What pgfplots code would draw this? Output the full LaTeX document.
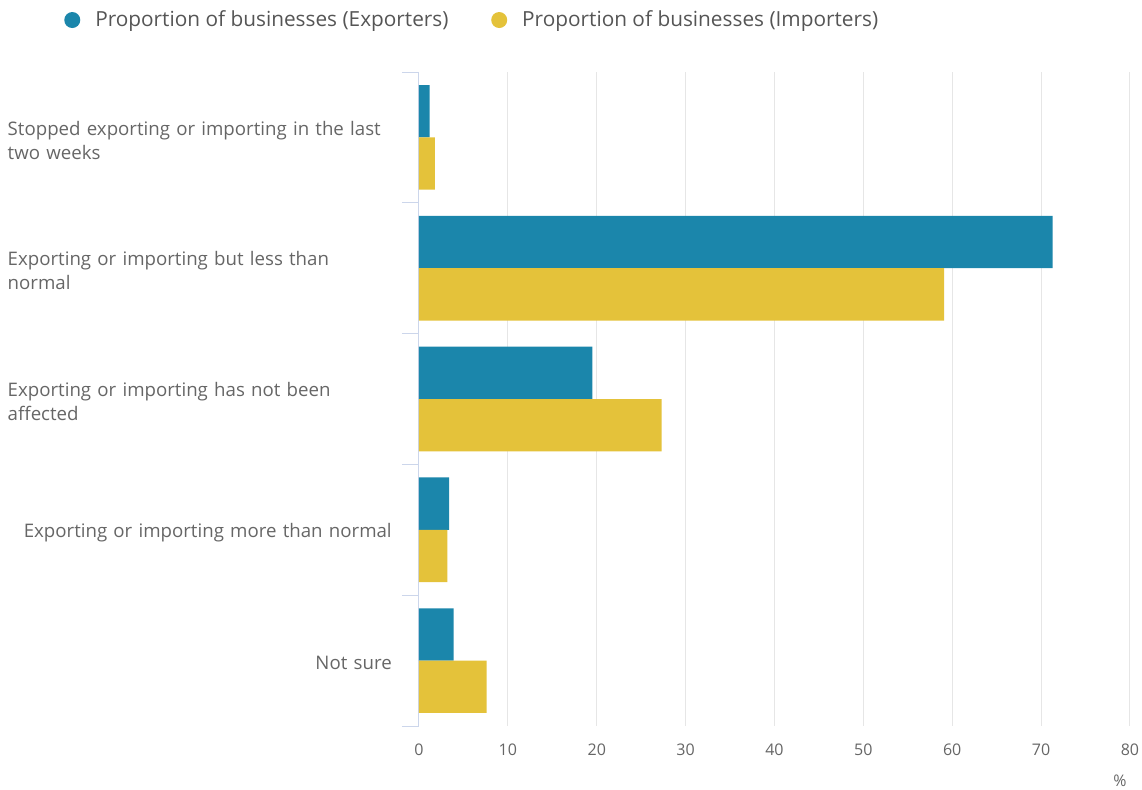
\documentclass[border=0pt]{standalone}
\usepackage{fontspec}
\setmainfont{Open Sans}
\usepackage{pgfplots}
\pgfplotsset{compat=1.18}
\definecolor{expc}{HTML}{1B86AB}
\definecolor{impc}{HTML}{E4C23A}
\definecolor{axisblue}{HTML}{CCD6EB}
\definecolor{gridgrey}{HTML}{E6E6E6}
\definecolor{labgrey}{HTML}{666666}
\definecolor{leggrey}{HTML}{555555}
\begin{document}
\begin{tikzpicture}
\useasboundingbox (0,0) rectangle (856.5pt,-591.75pt);
\begin{axis}[
 at={(314.25pt,-544.5pt)}, anchor=south west,
 scale only axis, width=533.25pt, height=490.5pt,
 xbar, bar width=0.4,
 xmin=0, xmax=80, ymin=-0.5, ymax=4.5, y dir=reverse,
 xtick={0,10,...,80}, ytick={0,...,4},
 /pgf/number format/assume math mode=true,
 yticklabels={{Stopped exporting or importing in the last\\two weeks},
   {Exporting or importing but less than\\normal},
   {Exporting or importing has not been\\affected},
   {\mbox{}\hfill Exporting or importing more than normal},
   {\mbox{}\hfill Not sure}},
 xmajorgrids, grid style={gridgrey, line width=0.75pt},
 major tick length=0pt,
 extra y ticks={-0.5,0.5,1.5,2.5,3.5,4.5}, extra y tick labels={},
 extra y tick style={major tick length=12.75pt, tick align=outside, tick style={axisblue, line width=0.75pt}, grid=none},
 axis x line*=bottom, axis y line*=left,
 x axis line style={draw=none}, y axis line style={axisblue, line width=0.75pt, -},
 yticklabel style={font=\fontsize{14}{18}\selectfont, text=labgrey, text width=288pt, align=left, anchor=east, inner sep=0pt, xshift=-20.25pt, yshift=-2pt},
 xticklabel style={font=\fontsize{12}{14}\selectfont, text=labgrey, inner sep=0pt, anchor=north, yshift=-13pt},
 xlabel={\%},
 xlabel style={at={(axis description cs:0.986,0)}, anchor=north, inner sep=0pt, yshift=-36.5pt, font=\fontsize{12}{14}\selectfont, text=labgrey},
 legend columns=2,
 legend style={at={(-0.4993,1.0795)}, anchor=west, draw=none, fill=none, inner sep=0pt,
   font=\fontsize{15.6}{17}\selectfont, text=leggrey, nodes={inner sep=0pt},
   /tikz/every odd column/.append style={column sep=11.25pt},
   /tikz/every even column/.append style={column sep=32pt}},
]
\addplot[fill=expc, draw=none, bar shift=-0.2, legend image code/.code={\fill[expc] (6pt,0pt) circle (6pt);}]
  coordinates {(1.2,0) (71.3,1) (19.5,2) (3.4,3) (3.9,4)};
\addplot[fill=impc, draw=none, bar shift=0.2, legend image code/.code={\fill[impc] (6pt,0pt) circle (6pt);}]
  coordinates {(1.8,0) (59.1,1) (27.3,2) (3.2,3) (7.6,4)};
\legend{Proportion of businesses (Exporters), Proportion of businesses (Importers)}
\end{axis}
\end{tikzpicture}
\end{document}
